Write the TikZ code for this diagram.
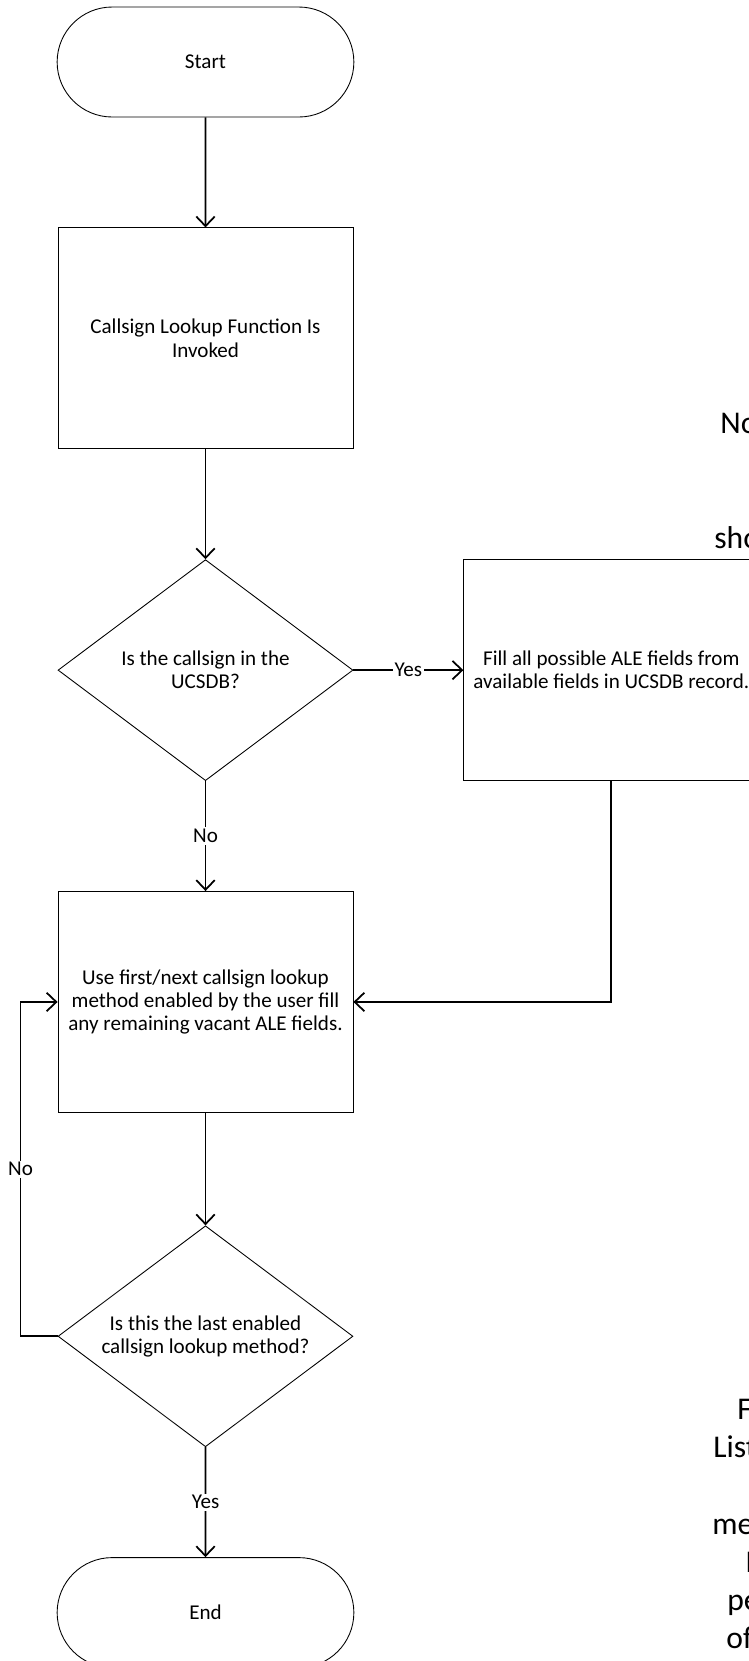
\documentclass[tikz,border=0pt]{standalone}
\usepackage{fontspec}
\setmainfont{Carlito}
\usetikzlibrary{arrows.meta,shapes.geometric,shapes.misc,positioning}

\begin{document}
\begin{tikzpicture}[x=0.02cm,y=-0.02cm,
    >={Straight Barb[length=5.5pt,width=10.5pt]},
    node distance=2.2cm,
    every node/.style={font=\fontsize{12}{13.2}\selectfont},
    terminal/.style={draw,line width=0.5pt,rounded rectangle,minimum width=6.17cm,minimum height=2.2cm},
    process/.style={draw,line width=0.5pt,rectangle,minimum width=5.9cm,minimum height=4.42cm,align=center},
    decision/.style={draw,line width=0.5pt,diamond,aspect=1.335,minimum width=5.9cm,minimum height=4.42cm,inner sep=0pt,align=center},
    flow/.style={->,line width=1pt},
    lbl/.style={fill=white,inner sep=1pt},
    cut/.style={font=\fontsize{18}{21.6}\selectfont,anchor=base west,inner sep=0pt}]
  \useasboundingbox (0,0) rectangle (749,1661);
  \clip (0,0) rectangle (749,1661);

  % flow chart
  \node[terminal] (start) at (205.5,62) {Start};
  \node[process,below=of start] (invoke) {Callsign Lookup Function Is\\Invoked};
  \node[decision,below=of invoke] (inucsdb) {Is the callsign in the\\UCSDB?};
  \node[process,right=of inucsdb] (fillale) {Fill all possible ALE fields from\\available fields in UCSDB record.};
  \node[process,below=of inucsdb] (usenext) {Use first/next callsign lookup\\method enabled by the user fill\\any remaining vacant ALE fields.};
  \node[decision,below=2.25cm of usenext] (lastmeth) {Is this the last enabled\\callsign lookup method?};
  \node[terminal,below=of lastmeth] (finish) {End};
  \coordinate (loopx) at ([xshift=-0.74cm]lastmeth.west);

  \draw[flow] (start) -- (invoke);
  \draw[flow] (invoke) -- (inucsdb);
  \draw[flow] (inucsdb) -- node[lbl] {Yes} (fillale);
  \draw[flow] (inucsdb) -- node[lbl] {No} (usenext);
  \draw[flow] (fillale.south) |- (usenext.east);
  \draw[flow] (usenext) -- (lastmeth);
  \draw[flow] (lastmeth.west) -- (loopx) |- node[lbl,pos=0.25] {No} (usenext.west);
  \draw[flow] (lastmeth) -- node[lbl] {Yes} (finish);

  % text cut off at the right edge
  \node[cut] (nofrag) at (720,433) {No};
  \node[cut] (shofrag) at (714,548) {sho};
  \node[cut] (ffrag) at (737,1419) {F};
  \node[cut] (listfrag) at (713,1457) {List};
  \node[cut] (mefrag) at (712,1534) {me};
  \node[cut] (ifrag) at (745,1572) {I};
  \node[cut] (pefrag) at (727,1610) {pe};
  \node[cut] (offrag) at (726,1648) {of};
\end{tikzpicture}
\end{document}
